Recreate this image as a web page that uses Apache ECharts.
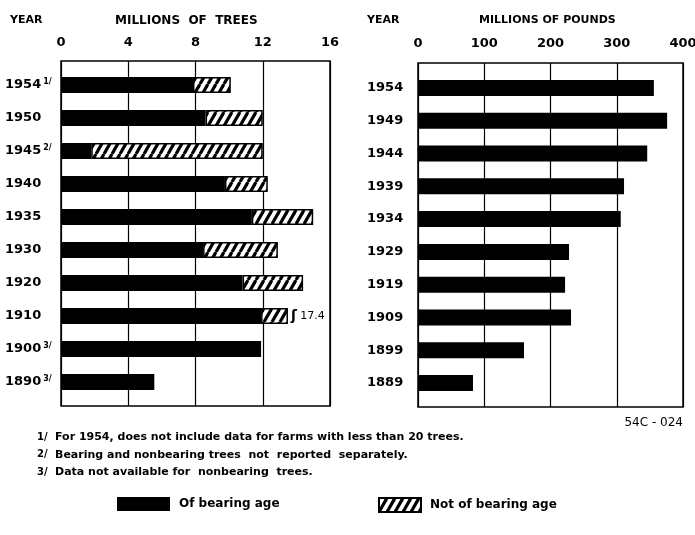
<!DOCTYPE html>
<html>
<head>
<meta charset="utf-8">
<script src="https://cdn.jsdelivr.net/npm/echarts@6/dist/echarts.min.js"></script>
<style>
html,body{margin:0;padding:0;background:#fff;overflow:hidden;}
#c{width:695px;height:535px;}
</style>
</head>
<body>
<div id="c"></div>
<script>
// ---- data ----
var treeYears = ['1954', '1950', '1945', '1940', '1935', '1930', '1920', '1910', '1900', '1890'];
var treeNotes = ['1/', '', '2/', '', '', '', '', '', '3/', '3/'];
var bearing = [7.85, 8.6, 1.8, 9.75, 11.35, 8.45, 10.8, 11.9, 11.9, 5.55];
var nonBearing = [2.25, 3.4, 10.2, 2.55, 3.65, 4.45, 3.6, 1.6, null, null];
var barLabels = ['', '', '', '', '', '', '', '17.4', '', ''];
var treeTicks = [0, 4, 8, 12, 16];

var poundYears = ['1954', '1949', '1944', '1939', '1934', '1929', '1919', '1909', '1899', '1889'];
var pounds = [356, 376, 346, 311, 306, 228, 222, 231, 160, 83];
var poundTicks = [0, 100, 200, 300, 400];

var footnotes = [
  ['1/', 'For 1954, does not include data for farms with less than 20 trees.'],
  ['2/', 'Bearing and nonbearing trees  not  reported  separately.'],
  ['3/', 'Data not available for  nonbearing  trees.']
];

// ---- hatch pattern ----
var pc = document.createElement('canvas');
pc.width = 8; pc.height = 14;
var ctx = pc.getContext('2d');
ctx.fillStyle = '#fff'; ctx.fillRect(0, 0, 8, 14);
ctx.strokeStyle = '#000'; ctx.lineWidth = 3.2;
[-8, 0, 8].forEach(function (x0) {
  ctx.beginPath(); ctx.moveTo(x0, 14); ctx.lineTo(x0 + 8, 0); ctx.stroke();
});
var hatch = { image: pc, repeat: 'repeat' };

var FONT = 'DejaVu Sans';
var chart = echarts.init(document.getElementById('c'), null, { renderer: 'canvas' });

function yearLabel(years, notes) {
  return function (v, i) {
    var n = notes ? notes[i] : '';
    return '{y|' + v + '}' + (n ? '{s|' + n + '}' : '');
  };
}
var richY = {
  y: { fontFamily: FONT, fontWeight: 'bold', fontSize: 13, color: '#000' },
  s: { fontFamily: FONT, fontWeight: 'bold', fontSize: 8, color: '#000', padding: [0, 0, 7, 2] }
};

var texts = [
  { type: 'text', left: 10, top: 15, style: { text: 'YEAR', font: 'bold 11px "' + FONT + '"', fill: '#000' } },
  { type: 'text', left: 115, top: 15, style: { text: 'MILLIONS  OF  TREES', font: 'bold 12px "' + FONT + '"', fill: '#000' } },
  { type: 'text', left: 367, top: 15, style: { text: 'YEAR', font: 'bold 11px "' + FONT + '"', fill: '#000' } },
  { type: 'text', left: 479, top: 15, style: { text: 'MILLIONS OF POUNDS', font: 'bold 11px "' + FONT + '"', fill: '#000' } },
  { type: 'text', right: 12, top: 417, style: { text: '54C - 024', font: '12px "' + FONT + '"', fill: '#000' } }
];
footnotes.forEach(function (f, i) {
  texts.push({ type: 'text', left: 37, top: 432 + i * 17.5, style: { text: f[0], font: 'bold 10px "' + FONT + '"', fill: '#000' } });
  texts.push({ type: 'text', left: 55, top: 432 + i * 17.5, style: { text: f[1], font: 'bold 11px "' + FONT + '"', fill: '#000' } });
});

var option = {
  animation: false,
  backgroundColor: '#fff',
  textStyle: { fontFamily: FONT },
  legend: [
    { data: ['Of bearing age'], left: 117, top: 497, padding: 0, icon: 'rect', itemWidth: 53, itemHeight: 14, itemGap: 10,
      textStyle: { fontFamily: FONT, fontWeight: 'bold', fontSize: 12, color: '#000', padding: [0, 0, 0, 4] } },
    { data: ['Not of bearing age'], left: 378, top: 497, padding: 0, icon: 'rect', itemWidth: 42, itemHeight: 14,
      textStyle: { fontFamily: FONT, fontWeight: 'bold', fontSize: 12, color: '#000', padding: [0, 0, 0, 4] } }
  ],
  grid: [
    { left: 61, right: 365, top: 61, bottom: 129, outerBoundsMode: 'none', containLabel: false, show: true, borderColor: '#000', borderWidth: 1.5, backgroundColor: 'transparent' },
    { left: 61, right: 365, top: 68.5, bottom: 136.5, outerBoundsMode: 'none', containLabel: false },
    { left: 418, right: 12, top: 63, bottom: 128, outerBoundsMode: 'none', containLabel: false, show: true, borderColor: '#000', borderWidth: 1.5, backgroundColor: 'transparent' },
    { left: 418, right: 12, top: 71.6, bottom: 135.6, outerBoundsMode: 'none', containLabel: false }
  ],
  xAxis: [
    { gridIndex: 0, type: 'value', position: 'top', min: treeTicks[0], max: treeTicks[treeTicks.length - 1], interval: 4,
      axisLine: { show: false }, axisTick: { show: false },
      axisLabel: { margin: 12, fontFamily: FONT, fontWeight: 'bold', fontSize: 13, color: '#000' },
      splitLine: { show: true, lineStyle: { color: '#000', width: 1.2 } } },
    { gridIndex: 1, type: 'value', min: 0, max: 16, show: false },
    { gridIndex: 2, type: 'value', position: 'top', min: poundTicks[0], max: poundTicks[poundTicks.length - 1], interval: 100,
      axisLine: { show: false }, axisTick: { show: false },
      axisLabel: { margin: 13, fontFamily: FONT, fontWeight: 'bold', fontSize: 13, color: '#000' },
      splitLine: { show: true, lineStyle: { color: '#000', width: 1.2 } } },
    { gridIndex: 3, type: 'value', min: 0, max: 400, show: false }
  ],
  yAxis: [
    { gridIndex: 0, type: 'value', show: false, min: 0, max: 1 },
    { gridIndex: 1, type: 'category', inverse: true, data: treeYears,
      axisLine: { show: false }, axisTick: { show: false }, splitLine: { show: false },
      axisLabel: { align: 'left', margin: 56, formatter: yearLabel(treeYears, treeNotes), rich: richY } },
    { gridIndex: 2, type: 'value', show: false, min: 0, max: 1 },
    { gridIndex: 3, type: 'category', inverse: true, data: poundYears,
      axisLine: { show: false }, axisTick: { show: false }, splitLine: { show: false },
      axisLabel: { align: 'left', margin: 51, formatter: yearLabel(poundYears, null), rich: richY } }
  ],
  series: [
    { name: 'Of bearing age', type: 'bar', xAxisIndex: 1, yAxisIndex: 1, stack: 'trees', data: bearing,
      barWidth: 16, itemStyle: { color: '#000' } },
    { name: 'Not of bearing age', type: 'bar', xAxisIndex: 1, yAxisIndex: 1, stack: 'trees', data: nonBearing,
      barWidth: 15, itemStyle: { color: hatch, borderColor: '#000', borderWidth: 1.5 },
      label: { show: true, position: 'right', distance: 3,
        formatter: function (p) { return barLabels[p.dataIndex] ? '{b|ʃ} ' + barLabels[p.dataIndex] : ''; },
        rich: { b: { fontSize: 14, fontWeight: 'bold', color: '#000' } },
        fontFamily: FONT, fontSize: 11, color: '#000', backgroundColor: '#fff' } },
    { name: 'pounds', type: 'bar', xAxisIndex: 3, yAxisIndex: 3, data: pounds,
      barWidth: 16, itemStyle: { color: '#000' } }
  ],
  graphic: texts
};
chart.setOption(option);
</script>
</body>
</html>
